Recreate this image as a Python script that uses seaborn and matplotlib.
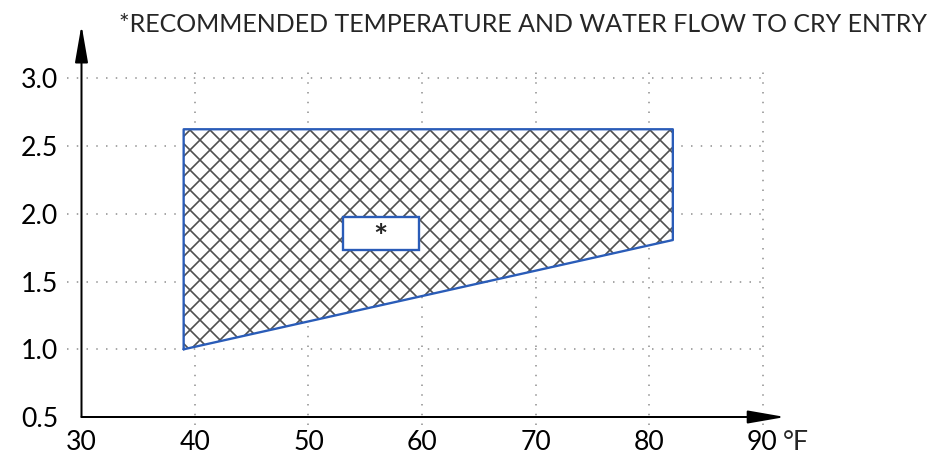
import matplotlib
matplotlib.use('Agg')
import matplotlib.pyplot as plt
from matplotlib.patches import ArrowStyle
import seaborn as sns

# Operating region: water temperature (F) vs flow
region_temp = [39.0, 39.0, 82.1, 82.1, 39.0]
region_flow = [1.0, 2.625, 2.625, 1.807, 1.0]

# Recommended point box for cry entry
box_temp = [53.0, 59.75]
box_flow = [1.733, 1.98]

x_ticks = [30, 40, 50, 60, 70, 80, 90]
x_labels = ['30', '40', '50', '60', '70', '80', '90']
y_ticks = [0.5, 1.0, 1.5, 2.0, 2.5, 3.0]
y_labels = ['0.5', '1.0', '1.5', '2.0', '2.5', '3.0']

title = '*RECOMMENDED TEMPERATURE AND WATER FLOW TO CRY ENTRY'

sns.set_theme(style='white')
plt.rcParams['font.family'] = ['Lato', 'DejaVu Sans']
plt.rcParams['hatch.linewidth'] = 1.0

dpi = 120
fig = plt.figure(figsize=(931 / dpi, 457 / dpi), dpi=dpi)
ax = fig.add_axes([81.5 / 931, 40 / 457, 703.7 / 931, 392 / 457])
ax.set_xlim(30, 92)
ax.set_ylim(0.5, 3.395)
for s in ax.spines.values():
    s.set_visible(False)

# dotted grid (slightly overshooting the axes like the original)
grid_kw = dict(color='#8c8c8c', lw=0.9, linestyle=(0, (1, 5.5)), clip_on=False, zorder=0)
ax.hlines(y_ticks[1:], 28.72, 90, **grid_kw)
ax.vlines(x_ticks[1:], 0.44, 3.066, **grid_kw)

# hatched region
ax.fill(region_temp, region_flow, facecolor='white', edgecolor='#505050',
        hatch='xx', lw=0, zorder=2)
sns.lineplot(x=region_temp, y=region_flow, sort=False, estimator=None,
             color='#2A5CB8', lw=1.4, ax=ax, zorder=3)

# recommended box
ax.fill([box_temp[0], box_temp[1], box_temp[1], box_temp[0]],
        [box_flow[0], box_flow[0], box_flow[1], box_flow[1]],
        facecolor='white', edgecolor='#2A5CB8', lw=1.4, zorder=4)
ax.text(sum(box_temp) / 2, sum(box_flow) / 2 - 0.04, '*', ha='center', va='center',
        fontsize=20, fontweight='bold', zorder=5)

# axes as arrows
arrow = ArrowStyle('-|>', head_length=1.9, head_width=0.33)
ax.annotate('', xy=(92, 0.5), xytext=(30, 0.5),
            arrowprops=dict(arrowstyle=arrow, color='black', lw=1.2,
                            mutation_scale=10, shrinkA=0, shrinkB=0))
ax.annotate('', xy=(30, 3.395), xytext=(30, 0.5),
            arrowprops=dict(arrowstyle=arrow, color='black', lw=1.2,
                            mutation_scale=10, shrinkA=0, shrinkB=0))

ax.set_xticks(x_ticks, x_labels)
ax.set_yticks(y_ticks, y_labels)
ax.tick_params(length=0, labelsize=16, labelcolor='black')
ax.tick_params(axis='x', pad=8)
ax.tick_params(axis='y', pad=14)
ax.annotate('°F', xy=(90, 0.5), xytext=(12, -7.5), textcoords='offset points',
            va='top', ha='left', fontsize=16)

fig.text(927 / 931, 1 - 32 / 457, title, fontsize=15.0, va='baseline', ha='right')

fig.savefig('out.png', dpi=dpi)
